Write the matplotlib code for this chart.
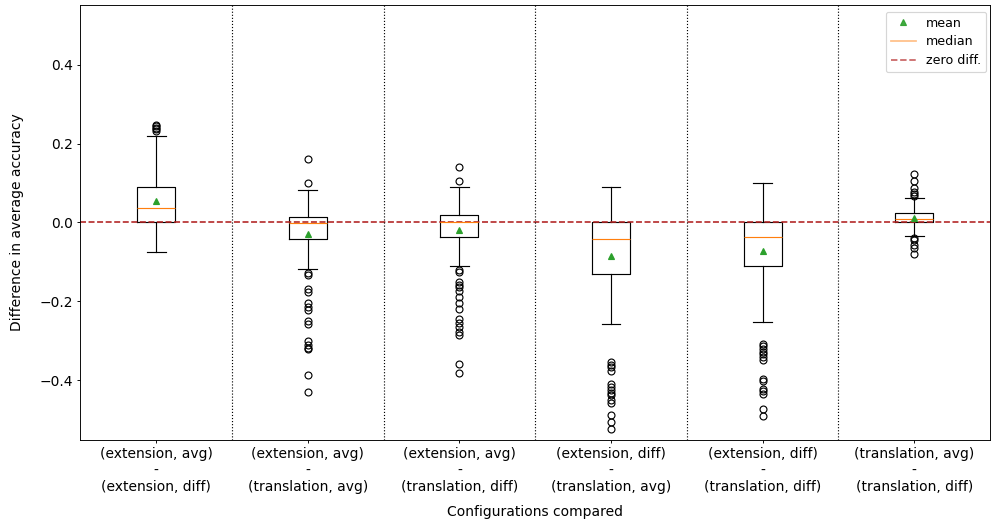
import numpy as np
import matplotlib
matplotlib.use("Agg")
from matplotlib import pyplot as plt
from matplotlib.lines import Line2D

plt.rcParams["font.size"] = 12

# comparisons (tick labels)
labels = ["(extension, avg)\n-\n(extension, diff)",
          "(extension, avg)\n-\n(translation, avg)",
          "(extension, avg)\n-\n(translation, diff)",
          "(extension, diff)\n-\n(translation, avg)",
          "(extension, diff)\n-\n(translation, diff)",
          "(translation, avg)\n-\n(translation, diff)"]

# box statistics
q1 = [0.0025, -0.043, -0.036, -0.130, -0.111, 0.000]
med = [0.037, -0.002, 0.000, -0.041, -0.036, 0.0084]
q3 = [0.089, 0.0135, 0.0185, 0.000, 0.000, 0.0245]
mean = [0.054, -0.030, -0.018, -0.084, -0.073, 0.012]
whislo = [-0.074, -0.117, -0.109, -0.258, -0.251, -0.035]
whishi = [0.220, 0.083, 0.089, 0.089, 0.100, 0.061]
fliers = [
    [0.248, 0.244, 0.240, 0.236, 0.232],
    [0.160, 0.100, -0.127, -0.134, -0.168, -0.176, -0.205, -0.213, -0.222,
     -0.249, -0.256, -0.300, -0.309, -0.317, -0.320, -0.387, -0.430],
    [0.140, 0.104, -0.121, -0.125, -0.151, -0.157, -0.164, -0.174, -0.189,
     -0.205, -0.220, -0.244, -0.254, -0.265, -0.277, -0.286, -0.358, -0.382],
    [-0.353, -0.360, -0.366, -0.376, -0.410, -0.417, -0.425, -0.431, -0.438,
     -0.449, -0.457, -0.487, -0.505, -0.522],
    [-0.307, -0.313, -0.320, -0.327, -0.333, -0.340, -0.348, -0.396, -0.401,
     -0.421, -0.427, -0.434, -0.472, -0.490],
    [0.123, 0.105, 0.087, 0.077, 0.071, 0.068, -0.040, -0.045, -0.057,
     -0.065, -0.081],
]

stats = []
for i in range(len(labels)):
    stats.append(dict(med=med[i], q1=q1[i], q3=q3[i], mean=mean[i],
                      whislo=whislo[i], whishi=whishi[i],
                      fliers=np.array(fliers[i]), label=labels[i]))

fig = plt.figure(figsize=(992 / 83, 526 / 83), dpi=83)
ax = fig.add_axes([0.081, 0.164, 0.917, 0.826])

ax.bxp(stats, widths=0.25, showmeans=True,
       medianprops=dict(color="tab:orange"),
       meanprops=dict(marker="^", markerfacecolor="tab:green",
                      markeredgecolor="tab:green"))

ax.axhline(0, color="firebrick", linestyle="--", linewidth=1.4)
for x in np.arange(1.5, len(labels), 1.0):
    ax.axvline(x, color="black", linestyle=":", linewidth=1)

ax.set_xlim(0.5, len(labels) + 0.5)
ax.set_ylim(-0.55, 0.55)
ax.set_yticks([-0.4, -0.2, 0.0, 0.2, 0.4])
ax.tick_params(length=3)
ax.set_ylabel("Difference in average accuracy")
ax.yaxis.set_label_coords(-0.0615, 0.5)
ax.set_xlabel("Configurations compared", labelpad=10)

handles = [
    Line2D([], [], marker="^", linestyle="none", color="tab:green", alpha=0.9),
    Line2D([], [], color="tab:orange", alpha=0.5),
    Line2D([], [], color="firebrick", linestyle="--", alpha=0.7),
]
ax.legend(handles, ["mean", "median", "zero diff."], loc="upper right",
          bbox_to_anchor=(1.003, 1.0), borderaxespad=0.5, fontsize=11,
          labelspacing=0.45)

fig.savefig("out.png")
